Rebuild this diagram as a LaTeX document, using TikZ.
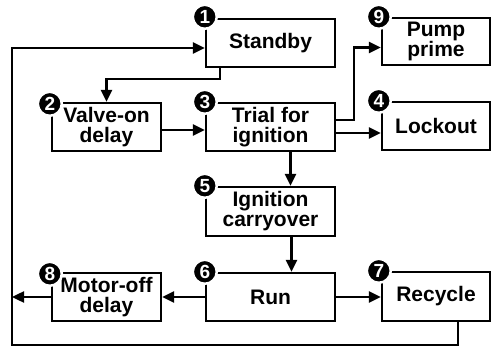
\documentclass[tikz,border=0pt]{standalone}
\usepackage{fontspec}
\setmainfont{Liberation Sans}
\usetikzlibrary{arrows.meta}
\tikzset{
  box/.style={draw=black, line width=2.4pt, fill=white, align=center, inner sep=0pt,
    font=\bfseries\fontsize{21}{20}\selectfont},
  num/.style={circle, fill=black, draw=white, line width=2.5pt, minimum size=24pt, inner sep=0pt,
    text=white, font=\bfseries\fontsize{19}{19}\selectfont},
  arr/.style={line width=2.4pt, -{Triangle[length=12pt,width=11pt]}},
  ln/.style={line width=2.4pt}
}
\begin{document}
\begin{tikzpicture}[x=1pt,y=-1pt]
\useasboundingbox (0,0) rectangle (495,347);
\node[box, minimum width=129pt, minimum height=48pt] (standby) at (270.5,43) {Standby};
\node[box, minimum width=109pt, minimum height=48pt] (valve) at (106.5,127) {Valve-on\\delay};
\node[box, minimum width=129pt, minimum height=48pt] (trial) at (270.5,127) {Trial for\\ignition};
\node[box, minimum width=108pt, minimum height=47pt] (pump) at (436,41.5) {Pump\\prime};
\node[box, minimum width=108pt, minimum height=48pt] (lockout) at (436,126) {Lockout};
\node[box, minimum width=129pt, minimum height=49pt] (carry) at (270.5,211.5) {Ignition\\carryover};
\node[box, minimum width=129pt, minimum height=48pt] (run) at (270.5,297) {Run};
\node[box, minimum width=109pt, minimum height=48pt] (motor) at (106.5,297) {Motor-off\\delay};
\node[box, minimum width=108pt, minimum height=49pt] (recycle) at (436,296.5) {Recycle};

\node[num] (n1) at ([yshift=1pt]standby.north west) {1};
\node[num] (n2) at ([xshift=-1pt,yshift=-2pt]valve.north west) {2};
\node[num] (n3) at (trial.north west) {3};
\node[num] (n9) at ([xshift=-2pt]pump.north west) {9};
\node[num] (n4) at ([xshift=-2pt]lockout.north west) {4};
\node[num] (n5) at (carry.north west) {5};
\node[num] (n6) at (run.north west) {6};
\node[num] (n8) at ([xshift=-1pt,yshift=-2pt]motor.north west) {8};
\node[num] (n7) at ([xshift=-2pt]recycle.north west) {7};

\coordinate (bl) at (12,345);
\coordinate (tl) at (12,48);

\draw[arr] ([xshift=-50.5pt]standby.south) -- ++(0,11) -| (valve.north);
\draw[arr] ([yshift=-3pt]valve.east) -- ([yshift=-3pt]valve.east -| trial.west);
\draw[arr] ([yshift=7pt]trial.east) -- ++(18,0) |- ([yshift=-6pt]pump.west);
\draw[arr] ([yshift=-6pt]trial.east) -- ([yshift=-6pt]trial.east -| lockout.west);
\draw[arr] ([xshift=20pt]trial.south) -- ([xshift=20pt]carry.north);
\draw[arr] ([xshift=21pt]carry.south) -- ([xshift=21pt]run.north);
\draw[arr] (run.west) -- (motor.east);
\draw[arr] (run.east) -- (run.east -| recycle.west);
\draw[arr] (motor.west) -- (motor.west -| bl);
\draw[arr] ([xshift=22pt]recycle.south) |- (bl) -- (tl) -- (tl -| standby.west);
\end{tikzpicture}
\end{document}
